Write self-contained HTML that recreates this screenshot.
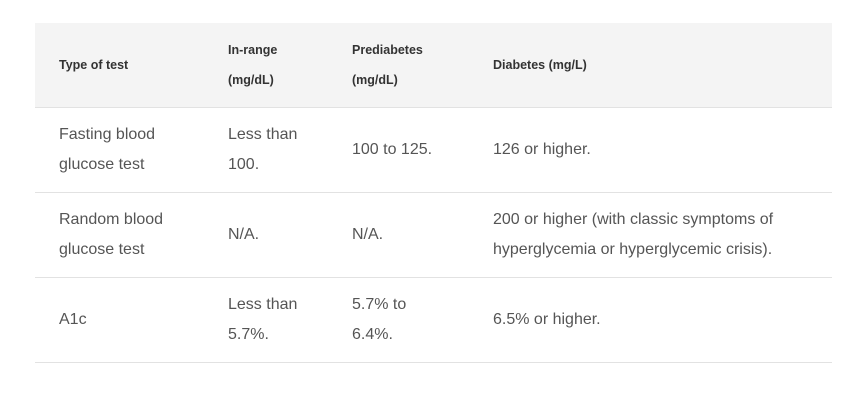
<!DOCTYPE html>
<html><head><meta charset="utf-8"><style>
html,body{margin:0;padding:0;width:860px;height:407px;background:#fff;overflow:hidden}
table{position:absolute;left:35px;top:23px;width:797px;border-collapse:collapse;table-layout:fixed;font-family:"Liberation Sans",Arial,sans-serif}
th,td{text-align:left;vertical-align:middle;padding:0 6px 0 24px;box-sizing:border-box}
thead tr{background:#f4f4f4;height:84px}
th{font-size:12.5px;font-weight:bold;color:#333;line-height:30px}
tbody tr{height:85px;border-top:1px solid #e2e2e2}
tbody tr:last-child{border-bottom:1px solid #e2e2e2}
td{font-size:16px;color:#555;line-height:30px;white-space:nowrap}
</style></head><body>
<table>
<colgroup><col style="width:169px"><col style="width:124px"><col style="width:141px"><col></colgroup>
<thead><tr>
<th>Type of test</th>
<th>In-range<br>(mg/dL)</th>
<th>Prediabetes<br>(mg/dL)</th>
<th>Diabetes (mg/L)</th>
</tr></thead>
<tbody>
<tr>
<td>Fasting blood<br>glucose test</td>
<td>Less than<br>100.</td>
<td>100 to 125.</td>
<td>126 or higher.</td>
</tr>
<tr>
<td>Random blood<br>glucose test</td>
<td>N/A.</td>
<td>N/A.</td>
<td>200 or higher (with classic symptoms of<br>hyperglycemia or hyperglycemic crisis).</td>
</tr>
<tr>
<td>A1c</td>
<td>Less than<br>5.7%.</td>
<td>5.7% to<br>6.4%.</td>
<td>6.5% or higher.</td>
</tr>
</tbody></table>
</body></html>
